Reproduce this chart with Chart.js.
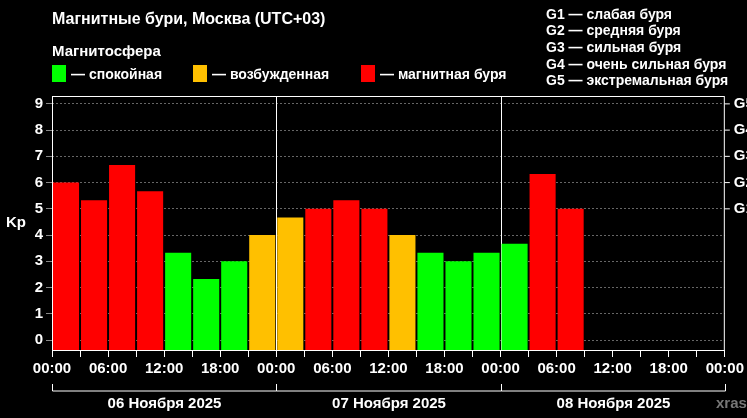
<!DOCTYPE html>
<html><head><meta charset="utf-8">
<script src="https://cdn.jsdelivr.net/npm/chart.js@4"></script>
<style>html,body{margin:0;background:#000}#c{display:block}</style>
</head><body>
<canvas id="c" width="747" height="418"></canvas>
<script>
// Kp index per 3-hour slot, 06–08 Nov 2025 (Moscow time)
const kpValues = [6.0, 5.33, 6.67, 5.67, 3.33, 2.33, 3.0, 4.0,
                  4.67, 5.0, 5.33, 5.0, 4.0, 3.33, 3.0, 3.33,
                  3.67, 6.33, 5.0];
const dayLabels = ['06 Ноября 2025', '07 Ноября 2025', '08 Ноября 2025'];
const timeLabels = ['00:00', '06:00', '12:00', '18:00'];
const gLevels = ['G1 — слабая буря', 'G2 — средняя буря', 'G3 — сильная буря',
                 'G4 — очень сильная буря', 'G5 — экстремальная буря'];
const legendItems = [['— спокойная', '#00ff00'], ['— возбужденная', '#ffc000'], ['— магнитная буря', '#ff0000']];

const FONT = "'Liberation Sans', Arial, sans-serif";
const yMin = -0.38;
const colorFor = v => v < 4 ? '#00ff00' : (v < 5 ? '#ffc000' : '#ff0000');

const decor = {
  id: 'decor',
  beforeDatasetsDraw(chart) {
    const { ctx, chartArea: a, scales: { x } } = chart;
    ctx.save();
    ctx.strokeStyle = '#fff'; ctx.lineWidth = 1;
    [8, 16].forEach(v => {
      const px = Math.round(x.getPixelForValue(v)) + 0.5;
      ctx.beginPath(); ctx.moveTo(px, a.top); ctx.lineTo(px, a.bottom); ctx.stroke();
    });
    ctx.restore();
  },
  afterDraw(chart) {
    const { ctx, chartArea: a, scales: { x, y } } = chart;
    ctx.save();
    ctx.fillStyle = '#fff';
    ctx.textBaseline = 'middle';
    ctx.font = 'bold 16px ' + FONT;
    ctx.fillText('Магнитные бури, Москва (UTC+03)', 52, 20);
    ctx.font = 'bold 15px ' + FONT;
    ctx.fillText('Магнитосфера', 52, 52);
    const lx = [52, 193, 361];
    legendItems.forEach(([t, c], i) => {
      ctx.fillStyle = c; ctx.fillRect(lx[i], 65, 14, 17);
      ctx.fillStyle = '#fff'; ctx.font = 'bold 14px ' + FONT;
      ctx.fillText(t, lx[i] + 19, 75);
    });
    ctx.font = 'bold 14px ' + FONT;
    gLevels.forEach((t, i) => ctx.fillText(t, 546, 15 + i * 16.6));
    // frame
    ctx.strokeStyle = '#fff';
    ctx.strokeRect(a.left + 0.5, a.top + 0.5, a.right - a.left - 1, a.bottom - a.top);
    // right G ticks
    ctx.font = 'bold 15px ' + FONT;
    for (let k = 5; k <= 9; k++) {
      const py = y.getPixelForValue(k);
      ctx.beginPath(); ctx.moveTo(a.right, py); ctx.lineTo(a.right + 5, py); ctx.stroke();
      ctx.fillText('G' + (k - 4), a.right + 9, py);
    }
    // y title
    ctx.fillText('Kp', 6, (a.top + a.bottom) / 2);
    // day brackets
    const by = 391;
    dayLabels.forEach((t, i) => {
      const x0 = Math.round(x.getPixelForValue(i * 8)) + 0.5;
      const x1 = Math.round(x.getPixelForValue(i * 8 + 8)) + 0.5;
      ctx.beginPath();
      ctx.moveTo(x0, by - 7); ctx.lineTo(x0, by); ctx.lineTo(x1, by); ctx.lineTo(x1, by - 7);
      ctx.stroke();
      ctx.textAlign = 'center';
      ctx.fillText(t, (x0 + x1) / 2, 404);
    });
    ctx.fillStyle = '#777'; ctx.textAlign = 'left';
    ctx.fillText('xras', 716, 404);
    ctx.restore();
  }
};

new Chart(document.getElementById('c'), {
  type: 'bar',
  data: {
    datasets: [{
      data: kpValues.map((v, i) => ({ x: i + 0.5, y: v })),
      backgroundColor: kpValues.map(colorFor),
      base: yMin,
      barPercentage: 0.93,
      categoryPercentage: 1
    }]
  },
  options: {
    responsive: false,
    animation: false,
    layout: { padding: { top: 96, right: 19, left: 0, bottom: 0 } },
    plugins: { legend: { display: false }, tooltip: { enabled: false } },
    scales: {
      x: {
        type: 'linear', min: 0, max: 24, offset: false,
        afterFit: s => { s.height = 68; },
        afterBuildTicks: s => { s.ticks = []; for (let i = 0; i <= 24; i++) s.ticks.push({ value: i }); },
        grid: { drawOnChartArea: false, offset: false, color: '#fff', tickLength: 7 },
        border: { color: '#fff' },
        ticks: {
          color: '#fff', font: { family: FONT, size: 15, weight: 'bold' }, padding: 3,
          maxRotation: 0, autoSkip: false,
          callback: v => v % 2 === 0 ? timeLabels[(v / 2) % 4] : ''
        }
      },
      y: {
        min: yMin, max: 9.3,
        afterFit: s => { s.width = 52; },
        afterBuildTicks: s => { s.ticks = []; for (let i = 0; i <= 9; i++) s.ticks.push({ value: i }); },
        grid: { color: '#666', tickColor: '#888', tickLength: 6 },
        border: { display: false, dash: [2, 2] },
        ticks: { color: '#fff', font: { family: FONT, size: 15, weight: 'bold' }, padding: 3 }
      }
    }
  },
  plugins: [decor]
});
</script>
</body></html>
